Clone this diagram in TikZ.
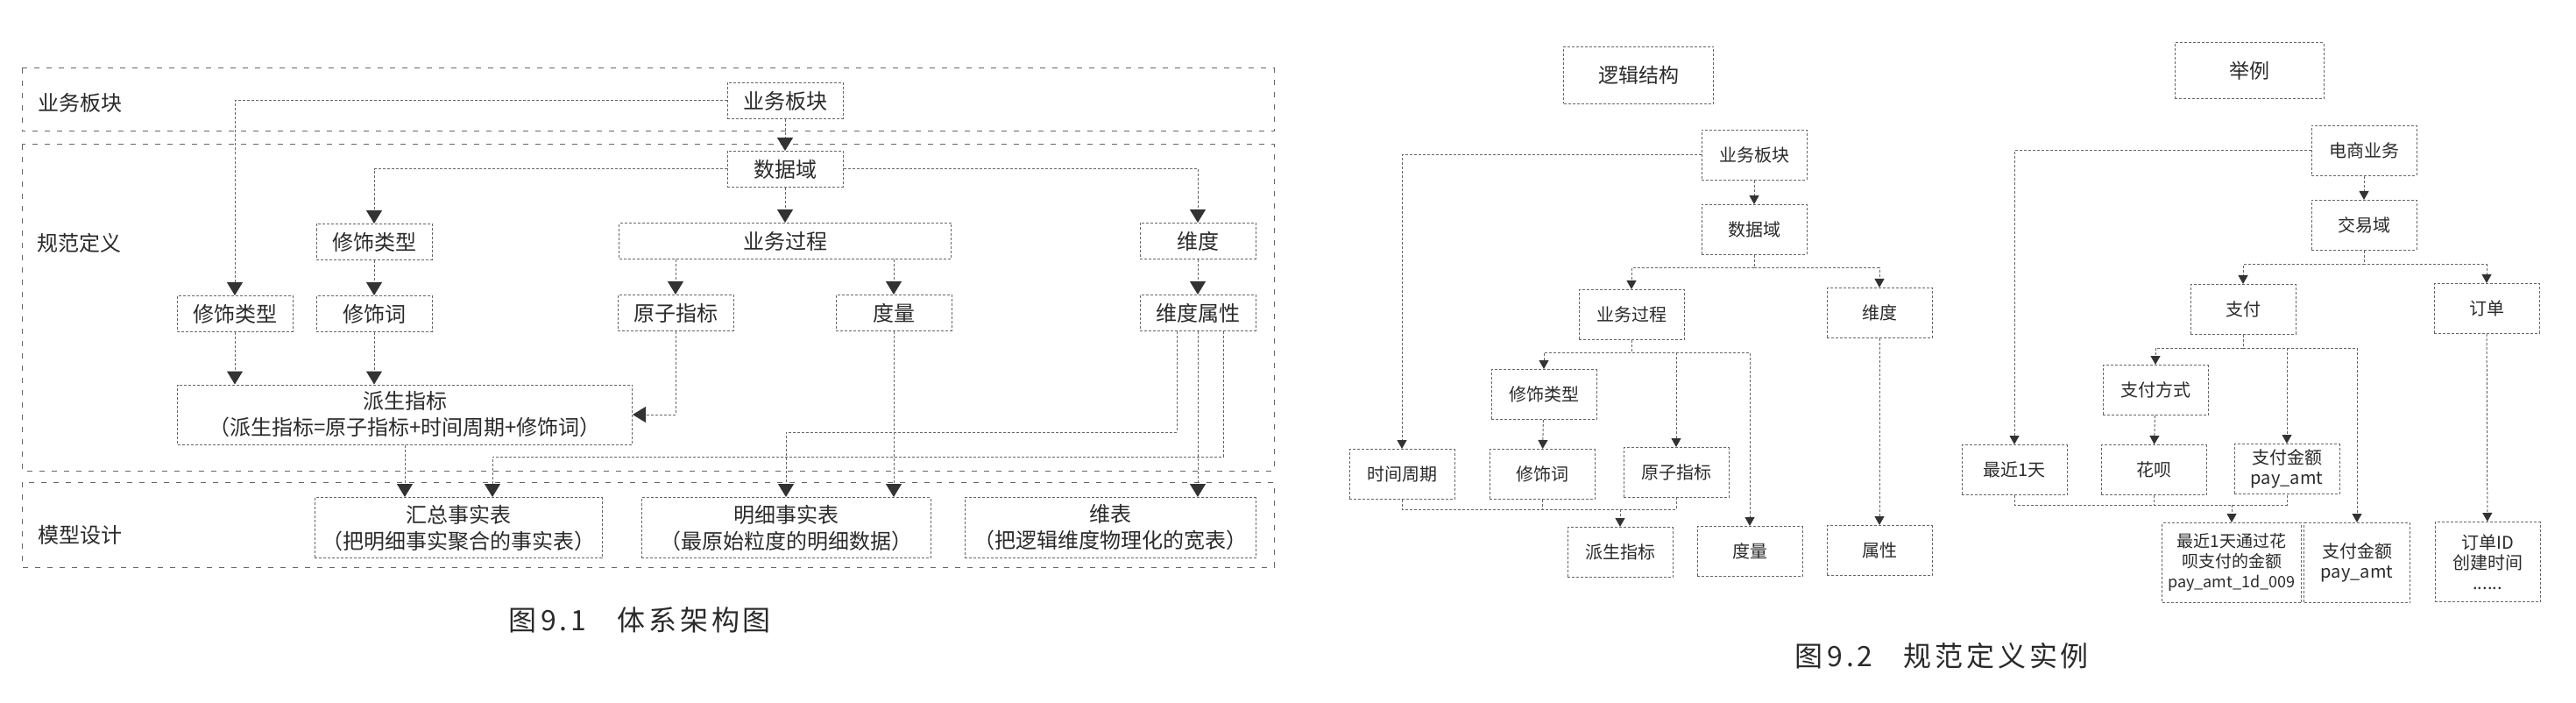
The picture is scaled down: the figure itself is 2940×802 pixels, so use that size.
\documentclass[tikz,border=0pt]{standalone}
\usepackage{fontspec}
\setmainfont{Noto Sans CJK SC}
\newfontfamily\capfont{Noto Sans CJK SC}[LetterSpace=12]
\usepackage{xcolor}
\usepackage{tikz}
\usetikzlibrary{arrows.meta}
\definecolor{linegray}{HTML}{666666}
\definecolor{textgray}{HTML}{2A2A2A}
\definecolor{tipgray}{HTML}{333333}

\begin{document}
\begin{tikzpicture}[x=0.5pt,y=-0.5pt,
  lane/.style={draw=linegray,line width=0.5pt,dash pattern=on 3pt off 4pt},
  lanelabel/.style={text=textgray,font=\fontsize{12}{14}\selectfont},
  lbox/.style={draw=linegray,line width=0.5pt,dash pattern=on 1.5pt off 1pt,inner sep=0pt,
    align=center,text=textgray,font=\fontsize{12}{15}\selectfont,minimum width=66pt,minimum height=20.5pt},
  rbox/.style={lbox,font=\fontsize{10}{11.5}\selectfont,minimum width=60pt,minimum height=28.5pt},
  link/.style={draw=linegray,line width=0.5pt,dash pattern=on 1.5pt off 1pt,
    -{Triangle[width=9pt,length=7.5pt,color=tipgray]}},
  rlink/.style={link,-{Triangle[width=5.5pt,length=5pt,color=tipgray]}},
  bus/.style={draw=linegray,line width=0.5pt,dash pattern=on 1.5pt off 1pt},
  caption/.style={text=textgray,font=\capfont\fontsize{16}{18}\selectfont}]
\useasboundingbox (0,0) rectangle (2940,802);

% 图9.1 lanes
\draw[lane] (25,78) rectangle (1454,150);
\draw[lane] (25,165) rectangle (1454,537);
\draw[lane] (25,550) rectangle (1454,647);
\node[lanelabel] (lane1) at (91,117) {业务板块};
\node[lanelabel] (lane2) at (90,277) {规范定义};
\node[lanelabel] (lane3) at (91,610) {模型设计};

% 图9.1 boxes
\node[lbox] (ybk) at (896,115) {业务板块};
\node[lbox] (sjy) at (896,193) {数据域};
\node[lbox,minimum width=189.5pt] (ywgc) at (896,275) {业务过程};
\node[lbox] (wd) at (1367,275) {维度};
\node[lbox] (xslx) at (427,276) {修饰类型};
\node[lbox] (xslx2) at (268,358) {修饰类型};
\node[lbox] (xsc) at (427,358) {修饰词};
\node[lbox] (yzzb) at (771,357) {原子指标};
\node[lbox] (dl) at (1020,357) {度量};
\node[lbox] (wdsx) at (1367,357) {维度属性};
\node[lbox,minimum width=259.5pt,minimum height=34pt] (pszb) at (462,473)
  {派生指标\\（派生指标=原子指标+时间周期+修饰词）};
\node[lbox,minimum width=164pt,minimum height=34.5pt] (hzsb) at (523,602)
  {汇总事实表\\（把明细事实聚合的事实表）};
\node[lbox,minimum width=165pt,minimum height=34.5pt] (mxsb) at (897,602)
  {明细事实表\\（最原始粒度的明细数据）};
\node[lbox,minimum width=166pt,minimum height=34.5pt] (wb) at (1267,602)
  {维表\\（把逻辑维度物理化的宽表）};

% 图9.1 links
\draw[link] (ybk.west) -| (xslx2.north);
\draw[link] (ybk) -- (sjy);
\draw[link] (sjy.west) -| (xslx.north);
\draw[link] (sjy.east) -| (wd.north);
\draw[link] (sjy) -- (ywgc);
\draw[link] (ywgc.south -| yzzb) -- (yzzb);
\draw[link] (ywgc.south -| dl) -- (dl);
\draw[link] (wd) -- (wdsx);
\draw[link] (xslx) -- (xsc);
\draw[link] (xslx2) -- (xslx2 |- pszb.north);
\draw[link] (xsc) -- (xsc |- pszb.north);
\draw[link] (yzzb.south) |- (pszb.east);
\draw[link] (pszb.south) -- (pszb.south |- hzsb.north);
\draw[link] (dl.south) -- (dl.south |- mxsb.north);
\draw[link] ([xshift=-12pt]wdsx.south) -- ++(0,115) -| (mxsb.north);
\draw[link] (wdsx.south) -- (wdsx.south |- wb.north);
\draw[link] ([xshift=14.5pt]wdsx.south) -- ++(0,143) -| ([xshift=19.5pt]hzsb.north);

\node[caption] (cap1) at (730,707) {图\,9.1\hspace{1.1em}体系架构图};

% 图9.2 逻辑结构
\node[rbox,minimum width=85.5pt,minimum height=32.5pt,font=\fontsize{11.5}{14}\selectfont] (ljjg) at (1870,86) {逻辑结构};
\node[rbox] (rybk) at (2002,177) {业务板块};
\node[rbox] (rsjy) at (2002,262) {数据域};
\node[rbox] (rywgc) at (1862,359) {业务过程};
\node[rbox] (rwd) at (2145,357) {维度};
\node[rbox] (rxslx) at (1762,450) {修饰类型};
\node[rbox] (rsjzq) at (1600,541) {时间周期};
\node[rbox] (rxsc) at (1760,541) {修饰词};
\node[rbox] (ryzzb) at (1913,539) {原子指标};
\node[rbox] (rpszb) at (1849,630) {派生指标};
\node[rbox] (rdl) at (1997,629) {度量};
\node[rbox] (rsx) at (2145,628) {属性};

\draw[rlink] (rybk.west) -| (rsjzq.north);
\draw[rlink] (rybk) -- (rsjy);
\draw[rlink] (rsjy.south) -- ++(0,15) -| (rywgc.north);
\draw[rlink] (rsjy.south) -- ++(0,15) -| (rwd.north);
\draw[rlink] (rywgc.south) -- ++(0,14) -| (rxslx.north);
\draw[rlink] (rywgc.south) -- ++(0,14) -| (ryzzb.north);
\draw[rlink] (rywgc.south) -- ++(0,14) -| (rdl.north);
\draw[rlink] (rxslx) -- (rxsc);
\draw[rlink] (rwd) -- (rsx);
\path (rsjzq.south) ++(0,11) coordinate (rjoin);
\draw[bus] (rsjzq.south) |- (ryzzb.south |- rjoin) -- (ryzzb.south);
\draw[bus] (rxsc.south) -- (rxsc.south |- rjoin);
\draw[rlink] (rpszb.north |- rjoin) -- (rpszb.north);

% 图9.2 举例
\node[rbox,minimum width=85pt,minimum height=32pt,font=\fontsize{11.5}{14}\selectfont] (jl) at (2567,81) {举例};
\node[rbox] (dsyw) at (2698,172) {电商业务};
\node[rbox] (jyy) at (2698,257) {交易域};
\node[rbox] (zf) at (2560,353) {支付};
\node[rbox] (dd) at (2838,352) {订单};
\node[rbox] (zffs) at (2460,445) {支付方式};
\node[rbox] (zj1t) at (2299,536) {最近1天};
\node[rbox] (hb) at (2458,536) {花呗};
\node[rbox] (zfje) at (2610,535) {支付金额\\pay\_amt};
\node[rbox,minimum width=79.5pt,minimum height=45.5pt,font=\fontsize{9.5}{11.5}\selectfont] (zbje) at (2547,642)
  {最近1天通过花\\呗支付的金额\\{\fontsize{9}{11.5}\selectfont pay\_amt\_1d\_009}};
\node[rbox,minimum width=60.5pt,minimum height=45.5pt] (zfje2) at (2690,642) {支付金额\\pay\_amt};
\node[rbox,minimum height=45.5pt] (ddid) at (2839,641) {订单ID\\创建时间\\......};

\draw[rlink] (dsyw.west) -| (zj1t.north);
\draw[rlink] (dsyw) -- (jyy);
\draw[rlink] (jyy.south) -- ++(0,16) -| (zf.north);
\draw[rlink] (jyy.south) -- ++(0,16) -| (dd.north);
\draw[rlink] (zf.south) -- ++(0,15) -| (zffs.north);
\draw[rlink] (zf.south) -- ++(0,15) -| (zfje.north);
\draw[rlink] (zf.south) -- ++(0,15) -| (zfje2.north);
\draw[rlink] (zffs) -- (hb);
\draw[rlink] (dd) -- (ddid);
\path (zj1t.south) ++(0,11) coordinate (zjoin);
\draw[bus] (zj1t.south) |- (zfje.south |- zjoin) -- (zfje.south);
\draw[bus] (hb.south) -- (hb.south |- zjoin);
\draw[rlink] (zbje.north |- zjoin) -- (zbje.north);

\node[caption] (cap2) at (2216,748) {图\,9.2\hspace{1.1em}规范定义实例};
\end{tikzpicture}
\end{document}
